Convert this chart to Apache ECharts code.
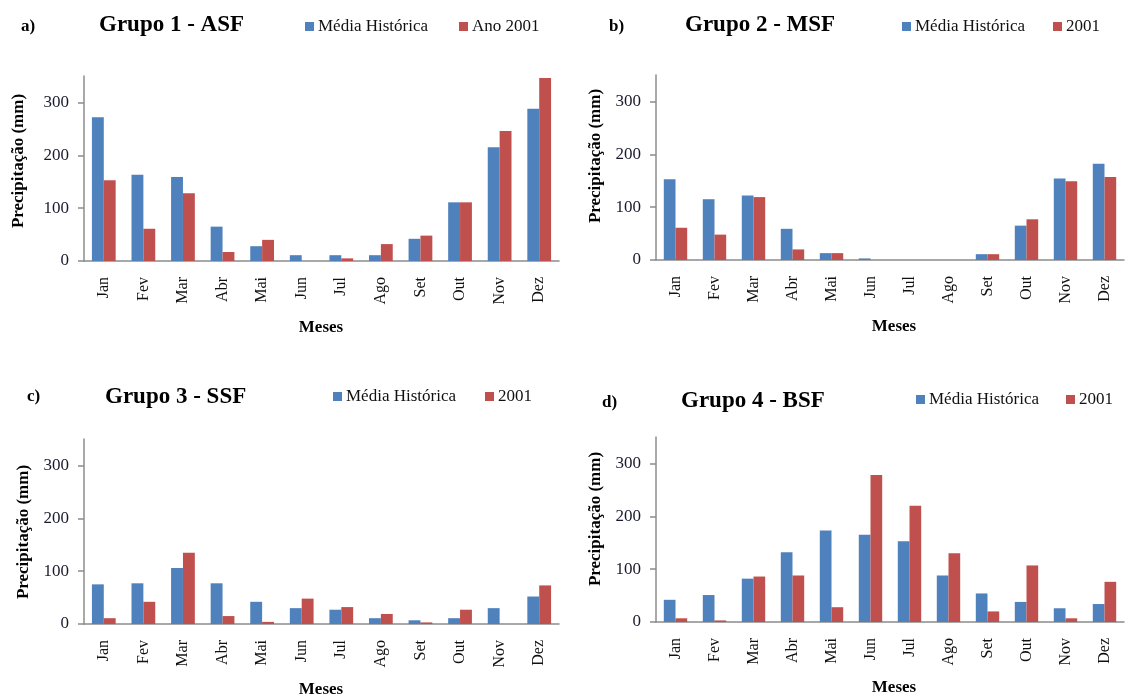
<!DOCTYPE html>
<html>
<head>
<meta charset="utf-8">
<script src="https://cdn.jsdelivr.net/npm/echarts@6/dist/echarts.min.js"></script>
<style>
  html, body { margin: 0; padding: 0; background: #ffffff; }
  #chart { width: 1126px; height: 696px; }
</style>
</head>
<body>
<div id="chart"></div>
<script>
// Monthly precipitation (mm): historical mean vs. 2001, four station groups
const months = ['Jan', 'Fev', 'Mar', 'Abr', 'Mai', 'Jun', 'Jul', 'Ago', 'Set', 'Out', 'Nov', 'Dez'];
const yTicks = [0, 100, 200, 300];

const mediaG1 = [272, 163, 159, 65, 28, 11, 11, 11, 42, 111, 215, 288];
const ano2001G1 = [153, 61, 128, 17, 40, 0, 5, 32, 48, 111, 246, 346];

const mediaG2 = [153, 115, 122, 59, 13, 3, 0, 0, 11, 65, 154, 182];
const ano2001G2 = [61, 48, 119, 20, 13, 0, 0, 0, 11, 77, 149, 157];

const mediaG3 = [75, 77, 106, 77, 42, 30, 27, 11, 7, 11, 30, 52];
const ano2001G3 = [11, 42, 135, 15, 4, 48, 32, 19, 3, 27, 0, 73];

const mediaG4 = [42, 51, 82, 132, 173, 165, 153, 88, 54, 38, 26, 34];
const ano2001G4 = [7, 3, 86, 88, 28, 278, 220, 130, 20, 107, 7, 76];

const BLUE = '#4F81BD';
const RED = '#C0504D';
const AXIS = '#8C8C8C';
const FONT = '"Liberation Serif", "Times New Roman", serif';

const panels = [
  { letter: 'a)', title: 'Grupo 1 - ASF', media: mediaG1, year: ano2001G1, yearName: 'Ano 2001',
    grid: { left: 84, top: 76, width: 475, height: 185 },
    letterPos: [21, 27], titlePos: [99, 25], legendPos: [305, 18], legendGap: 31,
    yNamePos: [19, 161], xNamePos: [321, 328] },
  { letter: 'b)', title: 'Grupo 2 - MSF', media: mediaG2, year: ano2001G2, yearName: '2001',
    grid: { left: 656, top: 75, width: 468, height: 185 },
    letterPos: [609, 27], titlePos: [685, 25], legendPos: [902, 18], legendGap: 28,
    yNamePos: [596, 156], xNamePos: [894, 327] },
  { letter: 'c)', title: 'Grupo 3 - SSF', media: mediaG3, year: ano2001G3, yearName: '2001',
    grid: { left: 84, top: 439, width: 475, height: 185 },
    letterPos: [27, 397], titlePos: [105, 397], legendPos: [333, 388], legendGap: 29,
    yNamePos: [24, 532], xNamePos: [321, 690] },
  { letter: 'd)', title: 'Grupo 4 - BSF', media: mediaG4, year: ano2001G4, yearName: '2001',
    grid: { left: 656, top: 437, width: 468, height: 185 },
    letterPos: [602, 403], titlePos: [681, 401], legendPos: [916, 391], legendGap: 27,
    yNamePos: [596, 519], xNamePos: [894, 688] }
];

const grid = [], xAxis = [], yAxis = [], series = [], legend = [], graphic = [];

panels.forEach((p, i) => {
  grid.push(Object.assign({ containLabel: false }, p.grid));

  xAxis.push({
    type: 'category',
    gridIndex: i,
    data: months,
    axisLine: { show: true, lineStyle: { color: AXIS, width: 1.5 } },
    axisTick: { show: false },
    axisLabel: {
      rotate: 90, margin: 16, interval: 0,
      color: '#111', fontFamily: FONT, fontSize: 16
    },
    splitLine: { show: false }
  });

  yAxis.push({
    type: 'value',
    gridIndex: i,
    min: 0, max: 350, interval: 100,
    axisLine: { show: true, lineStyle: { color: AXIS, width: 1.5 } },
    axisTick: { show: true, inside: false, length: 6, customValues: yTicks, lineStyle: { color: AXIS, width: 1.5 } },
    axisLabel: { margin: 15, customValues: yTicks, color: '#1a1a2e', fontFamily: FONT, fontSize: 17 },
    splitLine: { show: false }
  });

  series.push({
    name: 'Média Histórica', type: 'bar', xAxisIndex: i, yAxisIndex: i,
    data: p.media, itemStyle: { color: BLUE },
    barGap: '0%', barCategoryGap: '40%'
  });
  series.push({
    name: p.yearName, type: 'bar', xAxisIndex: i, yAxisIndex: i,
    data: p.year, itemStyle: { color: RED },
    barGap: '0%', barCategoryGap: '40%'
  });

  legend.push({
    data: ['Média Histórica', p.yearName],
    left: p.legendPos[0], top: p.legendPos[1],
    orient: 'horizontal', padding: 0,
    itemWidth: 9, itemHeight: 9, itemGap: p.legendGap,
    icon: 'rect',
    textStyle: { fontFamily: FONT, fontSize: 17, color: '#111', padding: [0, 0, 0, -1] }
  });

  graphic.push(
    { type: 'text', x: p.letterPos[0], y: p.letterPos[1],
      style: { text: p.letter, font: 'bold 17px ' + FONT, fill: '#000', textAlign: 'left', textVerticalAlign: 'middle' } },
    { type: 'text', x: p.titlePos[0], y: p.titlePos[1],
      style: { text: p.title, font: 'bold 23px ' + FONT, fill: '#000', textAlign: 'left', textVerticalAlign: 'middle' } },
    { type: 'text', x: p.yNamePos[0], y: p.yNamePos[1], rotation: Math.PI / 2,
      style: { text: 'Precipitação (mm)', font: 'bold 17px ' + FONT, fill: '#000', textAlign: 'center', textVerticalAlign: 'middle' } },
    { type: 'text', x: p.xNamePos[0], y: p.xNamePos[1],
      style: { text: 'Meses', font: 'bold 17px ' + FONT, fill: '#000', textAlign: 'center', textVerticalAlign: 'middle' } }
  );
});

const chart = echarts.init(document.getElementById('chart'), null, { renderer: 'canvas' });
chart.setOption({
  backgroundColor: '#ffffff',
  animation: false,
  grid, xAxis, yAxis, series, legend, graphic
});
</script>
</body>
</html>
